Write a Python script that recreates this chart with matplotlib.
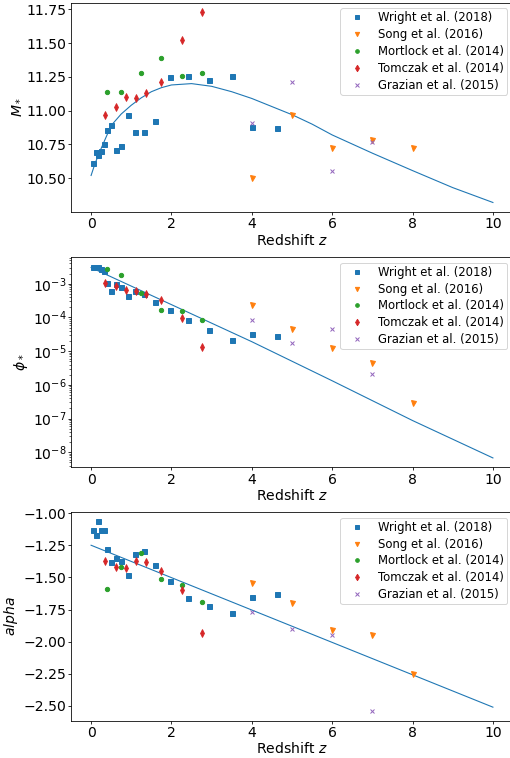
import matplotlib
matplotlib.use("Agg")
import matplotlib.pyplot as plt
import numpy as np

# ---------------- data ----------------
wright_z = [0.05, 0.11, 0.17, 0.24, 0.32, 0.405, 0.505, 0.62, 0.75, 0.91, 1.1, 1.325, 1.6, 1.975, 2.4, 2.925, 3.5, 4.0, 4.625]
wright_M = [10.615, 10.69, 10.675, 10.70, 10.75, 10.86, 10.895, 10.71, 10.74, 10.97, 10.84, 10.84, 10.925, 11.25, 11.255, 11.23, 11.26, 10.88, 10.87]
wright_logphi = [-2.51, -2.49, -2.49, -2.55, -2.63, -2.98, -3.21, -3.0, -3.09, -3.37, -3.22, -3.29, -3.53, -3.77, -4.07, -4.37, -4.67, -4.50, -4.54]
wright_alpha = [-1.13, -1.17, -1.065, -1.13, -1.13, -1.28, -1.38, -1.35, -1.37, -1.48, -1.32, -1.295, -1.40, -1.53, -1.66, -1.72, -1.78, -1.65, -1.63]

song_z = [4, 5, 6, 7, 8]
song_M = [10.50, 10.97, 10.72, 10.78, 10.72]
song_logphi = [-3.63, -4.34, -4.92, -5.34, -6.53]
song_alpha = [-1.545, -1.70, -1.91, -1.95, -2.25]

mort_z = [0.4, 0.75, 1.25, 1.75, 2.25, 2.75]
mort_M = [11.14, 11.14, 11.28, 11.39, 11.26, 11.28]
mort_logphi = [-2.57, -2.74, -3.26, -3.79, -3.82, -4.08]
mort_alpha = [-1.59, -1.42, -1.31, -1.51, -1.56, -1.69]

tom_z = [0.35, 0.625, 0.875, 1.125, 1.375, 1.75, 2.25, 2.75]
tom_M = [10.97, 11.03, 11.10, 11.09, 11.13, 11.21, 11.52, 11.73]
tom_logphi = [-2.98, -3.08, -3.20, -3.23, -3.31, -3.49, -4.01, -4.89]
tom_alpha = [-1.37, -1.42, -1.43, -1.37, -1.38, -1.45, -1.60, -1.93]

gra_z = [4, 5, 6, 7]
gra_M = [10.91, 11.21, 10.556, 10.77]
gra_logphi = [-4.08, -4.75, -4.33, -5.68]
gra_alpha = [-1.77, -1.90, -1.95, -2.54]

# fitted model curves
fitM_z = [0, 0.1, 0.25, 0.5, 0.75, 1.0, 1.25, 1.5, 1.75, 2.0, 2.5, 3.0, 3.5, 4.0, 4.5, 5.0, 5.5, 6, 7, 8, 9, 10]
fitM = [10.52, 10.61, 10.72, 10.89, 10.975, 11.04, 11.095, 11.14, 11.17, 11.19, 11.20, 11.18, 11.14, 11.09, 11.03, 10.97, 10.90, 10.82, 10.685, 10.556, 10.43, 10.32]
fitphi_z = [0, 2, 4, 6, 8, 10]
fitlogphi = [-2.52, -3.62, -4.72, -5.88, -7.06, -8.17]
fitalpha_z = [0, 10]
fitalpha = [-1.25, -2.51]

labels = ["Wright et al. (2018)", "Song et al. (2016)", "Mortlock et al. (2014)",
          "Tomczak et al. (2014)", "Grazian et al. (2015)"]

# ---------------- figure ----------------
DPI = 72
plt.rcParams['font.family'] = ['DejaVu Sans']
plt.rcParams['font.size'] = 14
plt.rcParams['xtick.major.pad'] = 2.0
plt.rcParams['ytick.major.pad'] = 1.5
plt.rcParams['xtick.major.size'] = 3.2
plt.rcParams['ytick.major.size'] = 3.2
W, H = 510.0, 758.0
fig = plt.figure(figsize=(W / DPI, H / DPI), dpi=DPI)
left = 71 / W
width = (513 - 71) / W
ax1 = fig.add_axes([left, 1 - 212 / H, width, 209.5 / H])
ax2 = fig.add_axes([left, 1 - 467.5 / H, width, 210.5 / H])
ax3 = fig.add_axes([left, 1 - 720.5 / H, width, 208.5 / H])

def draw(ax, fz, fy, series, ylabel, log=False):
    ax.plot(fz, fy, color='C0', lw=1.1)
    styles = [('s', 'C0', 5.0), ('v', 'C1', 5.0), ('o', 'C2', 4.3), ('d', 'C3', 5.5), ('x', 'C4', 4.0)]
    for (z, y), (m, c, ms), lab in zip(series, styles, labels):
        kw = dict(ls='none', marker=m, color=c, ms=ms, label=lab)
        if m == 'x':
            kw['mew'] = 1.0
        if m == 'd':
            kw['mew'] = 0.8
        ax.plot(z, y, **kw)
    if log:
        ax.set_yscale('log')
    ax.set_xlabel('Redshift $z$', labelpad=1.5)
    ax.set_ylabel(ylabel, labelpad=3)
    ax.set_xticks([0, 2, 4, 6, 8, 10])
    ax.legend(loc='upper right', fontsize='small', markerscale=0.85,
              borderpad=0.25, labelspacing=0.33, handlelength=2.3, handletextpad=0.7)

p = lambda a: list(10 ** np.asarray(a))

draw(ax1, fitM_z, fitM,
     [(wright_z, wright_M), (song_z, song_M), (mort_z, mort_M), (tom_z, tom_M), (gra_z, gra_M)],
     '$M_*$')
ax1.set_yticks([10.50, 10.75, 11.00, 11.25, 11.50, 11.75])

draw(ax2, fitphi_z, p(fitlogphi),
     [(wright_z, p(wright_logphi)), (song_z, p(song_logphi)), (mort_z, p(mort_logphi)),
      (tom_z, p(tom_logphi)), (gra_z, p(gra_logphi))],
     '$\\phi_*$', log=True)

draw(ax3, fitalpha_z, fitalpha,
     [(wright_z, wright_alpha), (song_z, song_alpha), (mort_z, mort_alpha),
      (tom_z, tom_alpha), (gra_z, gra_alpha)],
     '$alpha$')
ax3.set_yticks([-1.0, -1.25, -1.5, -1.75, -2.0, -2.25, -2.5])

for ax in (ax1, ax2, ax3):
    ax.set_xlim(-0.5, 10.5)

fig.savefig('out.png', dpi=DPI)
